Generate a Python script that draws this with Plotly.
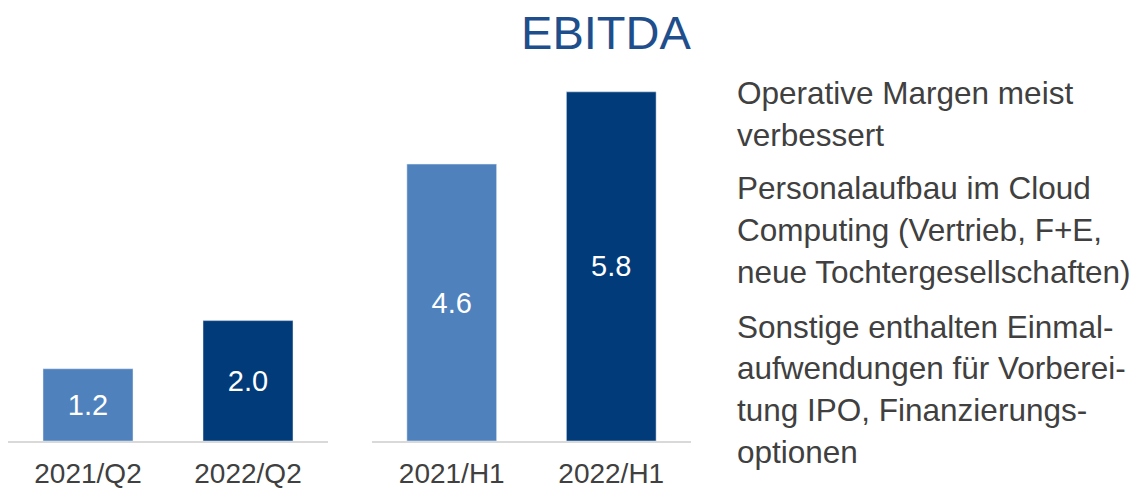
import plotly.graph_objects as go

# Data
q_categories = ["2021/Q2", "2022/Q2"]
q_values = [1.2, 2.0]
h_categories = ["2021/H1", "2022/H1"]
h_values = [4.6, 5.8]
bar_colors = ["#4F81BD", "#023B7A"]
title_text = "EBITDA"
notes_lines = [
    "Operative Margen meist",
    "verbessert",
    "Personalaufbau im Cloud",
    "Computing (Vertrieb, F+E,",
    "neue Tochtergesellschaften)",
    "Sonstige enthalten Einmal-",
    "aufwendungen für Vorberei-",
    "tung IPO, Finanzierungs-",
    "optionen",
]
notes_y_px = [93, 135, 188, 230, 272, 327, 368, 410, 452]

W, H = 1138, 488
FONT = "Arial, Liberation Sans, sans-serif"
TEXT_GRAY = "#404040"


def px(xp):
    return xp / W


def py(yp):
    return 1 - yp / H


fig = go.Figure()
for cats, vals, xa, ya in [(q_categories, q_values, "x", "y"), (h_categories, h_values, "x2", "y2")]:
    fig.add_trace(go.Bar(
        x=cats, y=vals, marker_color=bar_colors, width=0.5625,
        text=[f"{v:.1f}" for v in vals], textposition="inside",
        insidetextanchor="middle", textangle=0,
        textfont=dict(family=FONT, size=29, color="white"),
        xaxis=xa, yaxis=ya, showlegend=False, hoverinfo="skip",
    ))

baseline = 441
scale = 60.2  # px per unit
ydom = [py(baseline), 1.0]
yrange = [0, baseline / scale]
xcommon = dict(
    showline=True, linecolor="#D9D9D9", linewidth=2, showgrid=False, zeroline=False,
    ticks="outside", ticklen=6, tickcolor="rgba(0,0,0,0)", automargin=False,
    tickfont=dict(family=FONT, size=28, color=TEXT_GRAY), range=[-0.5, 1.5],
    fixedrange=True,
)
ycommon = dict(visible=False, range=yrange, domain=ydom, showgrid=False, zeroline=False,
               fixedrange=True, automargin=False)

fig.update_layout(
    width=W, height=H,
    margin=dict(l=0, r=0, t=0, b=0, autoexpand=False),
    paper_bgcolor="white", plot_bgcolor="rgba(0,0,0,0)",
    xaxis=dict(domain=[px(8), px(328)], anchor="y", **xcommon),
    yaxis=dict(anchor="x", **ycommon),
    xaxis2=dict(domain=[px(372), px(691)], anchor="y2", **xcommon),
    yaxis2=dict(anchor="x2", **ycommon),
    title=dict(text=title_text, x=px(606), y=py(33), xanchor="center", yanchor="middle",
               font=dict(family=FONT, size=47, color="#1F4E8C"), automargin=False),
)

for line, ypx in zip(notes_lines, notes_y_px):
    fig.add_annotation(
        text=line, xref="paper", yref="paper", x=px(735), y=py(ypx),
        xanchor="left", yanchor="middle", showarrow=False,
        font=dict(family=FONT, size=31.5, color=TEXT_GRAY),
    )

fig.write_html(
    "out.html",
    config={"displayModeBar": False},
    post_script="document.body.style.margin='0';document.body.style.overflow='hidden';",
)
